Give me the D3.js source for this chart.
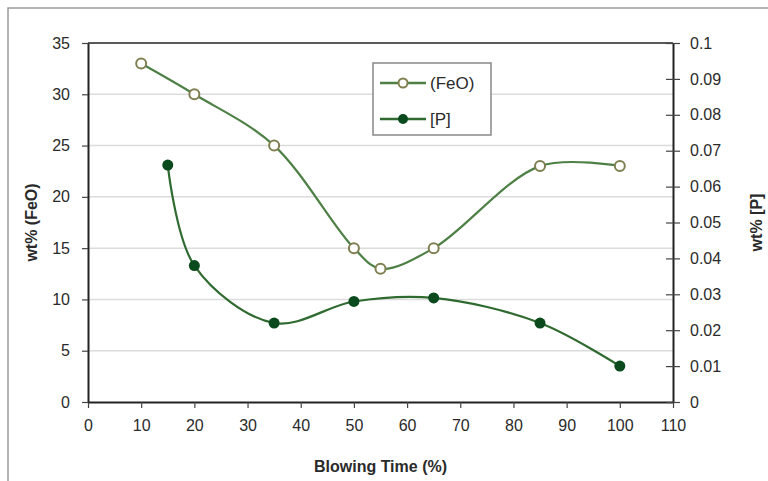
<!DOCTYPE html>
<html>
<head>
<meta charset="utf-8">
<script src="https://cdn.jsdelivr.net/npm/d3@7"></script>
<style>
  body { margin: 0; background: #fff; }
  text { font-family: "Liberation Sans", Arial, sans-serif; }
</style>
</head>
<body>
<div id="chart"></div>
<script>
// FeO and P content against blowing time

const feoTime = [10, 20, 35, 50, 55, 65, 85, 100];
const feoValues = [33, 30, 25, 15, 13, 15, 23, 23];
const pTime = [15, 20, 35, 50, 65, 85, 100];
const pValues = [0.066, 0.038, 0.022, 0.028, 0.029, 0.022, 0.010];
const xTicks = d3.range(0, 111, 10);
const leftTicks = d3.range(0, 36, 5);
const rightTicks = d3.range(0, 0.1001, 0.01);

const width = 768, height = 481;
const margin = {top: 43, right: 95, bottom: 79, left: 88};

const svg = d3.select("#chart")
    .append("svg")
    .attr("width", width)
    .attr("height", height);

// outer frame (only top and left edges visible)
svg.append("path")
    .attr("d", `M8,${height} V8 H${width}`)
    .attr("fill", "none")
    .attr("stroke", "#9a9a9a")
    .attr("stroke-width", 1.5);

const x = d3.scaleLinear().domain([0, 110]).range([margin.left, width - margin.right]);
const yL = d3.scaleLinear().domain([0, 35]).range([height - margin.bottom, margin.top]);
const yR = d3.scaleLinear().domain([0, 0.1]).range([height - margin.bottom, margin.top]);

// gridlines
svg.append("g")
    .selectAll("line")
    .data(leftTicks.filter(d => d > 0 && d < 35))
    .join("line")
    .attr("x1", x(0)).attr("x2", x(110))
    .attr("y1", d => yL(d)).attr("y2", d => yL(d))
    .attr("stroke", "#dcdcdc")
    .attr("stroke-width", 1.5);

// top border of plot
svg.append("line")
    .attr("x1", x(0)).attr("x2", x(110))
    .attr("y1", yL(35)).attr("y2", yL(35))
    .attr("stroke", "#222").attr("stroke-width", 1.5);

function styleAxis(g) {
    g.select(".domain").attr("stroke", "#222").attr("stroke-width", 2);
    g.selectAll(".tick line").attr("stroke", "#444").attr("stroke-width", 1.2);
    g.selectAll(".tick text")
        .attr("fill", "#2a2a2a")
        .style("font-size", "16px");
}

svg.append("g")
    .attr("transform", `translate(0,${yL(0)})`)
    .call(d3.axisBottom(x).tickValues(xTicks).tickSize(6).tickSizeOuter(0).tickPadding(12).tickFormat(d3.format("d")))
    .call(styleAxis);

svg.append("g")
    .attr("transform", `translate(${x(0)},0)`)
    .call(d3.axisLeft(yL).tickValues(leftTicks).tickSize(6).tickSizeOuter(0).tickPadding(12))
    .call(styleAxis);

const rightAxis = svg.append("g")
    .attr("transform", `translate(${x(110)},0)`)
    .call(d3.axisRight(yR).tickValues(rightTicks).tickSize(7).tickSizeOuter(0).tickPadding(10)
        .tickFormat(d => d === 0 ? "0" : d3.format(".2~f")(d)))
    .call(styleAxis);
rightAxis.selectAll(".tick line").attr("x1", -7);

// axis titles
const titleStyle = t => t.attr("text-anchor", "middle")
    .style("font-size", "16px")
    .style("font-weight", "bold")
    .attr("fill", "#2a2a2a");

svg.append("text")
    .attr("x", (x(0) + x(110)) / 2)
    .attr("y", 472)
    .call(titleStyle)
    .text("Blowing Time (%)");

svg.append("text")
    .attr("transform", `translate(37,${(yL(0) + yL(35)) / 2}) rotate(-90)`)
    .call(titleStyle)
    .text("wt% (FeO)");

svg.append("text")
    .attr("transform", `translate(762,${(yL(0) + yL(35)) / 2}) rotate(-90)`)
    .call(titleStyle)
    .text("wt% [P]");

const feoData = feoTime.map((t, i) => ({t, v: feoValues[i]}));
const pData = pTime.map((t, i) => ({t, v: pValues[i]}));

const feoLine = d3.line().x(d => x(d.t)).y(d => yL(d.v)).curve(d3.curveCatmullRom.alpha(0.5));
const pLine = d3.line().x(d => x(d.t)).y(d => yR(d.v)).curve(d3.curveCatmullRom.alpha(0.5));

const feoColor = "#4e8046", pColor = "#2f6a30";

svg.append("path")
    .datum(feoData)
    .attr("d", feoLine)
    .attr("fill", "none")
    .attr("stroke", feoColor)
    .attr("stroke-width", 2.2);

svg.append("path")
    .datum(pData)
    .attr("d", pLine)
    .attr("fill", "none")
    .attr("stroke", pColor)
    .attr("stroke-width", 2.2);

svg.append("g")
    .selectAll("circle")
    .data(feoData)
    .join("circle")
    .attr("cx", d => x(d.t))
    .attr("cy", d => yL(d.v))
    .attr("r", 5)
    .attr("fill", "#fff")
    .attr("stroke", "#7f7f50")
    .attr("stroke-width", 2);

svg.append("g")
    .selectAll("circle")
    .data(pData)
    .join("circle")
    .attr("cx", d => x(d.t))
    .attr("cy", d => yR(d.v))
    .attr("r", 5.5)
    .attr("fill", "#0b4a1c");

// legend
const legend = svg.append("g").attr("transform", "translate(373,63)");
legend.append("rect")
    .attr("width", 118).attr("height", 72)
    .attr("fill", "#fff")
    .attr("stroke", "#888").attr("stroke-width", 1.5);

const legendItems = [
    {label: "(FeO)", y: 20, color: feoColor, open: true},
    {label: "[P]", y: 56, color: pColor, open: false}
];
legendItems.forEach(d => {
    legend.append("line")
        .attr("x1", 7).attr("x2", 53)
        .attr("y1", d.y).attr("y2", d.y)
        .attr("stroke", d.color).attr("stroke-width", 2.5);
    legend.append("circle")
        .attr("cx", 30).attr("cy", d.y)
        .attr("r", d.open ? 4.5 : 5)
        .attr("fill", d.open ? "#fff" : "#0b4a1c")
        .attr("stroke", d.open ? "#7f7f50" : "none")
        .attr("stroke-width", 2);
    legend.append("text")
        .attr("x", 57).attr("y", d.y + 6)
        .style("font-size", "17px")
        .attr("fill", "#2a2a2a")
        .text(d.label);
});
</script>
</body>
</html>
